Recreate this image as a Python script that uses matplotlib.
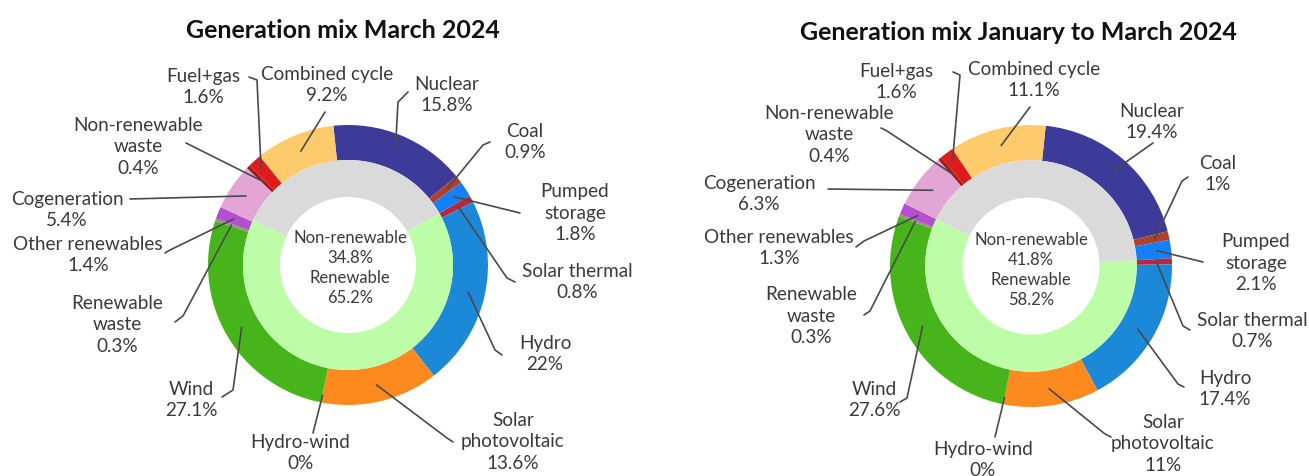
import numpy as np
import matplotlib.pyplot as plt

plt.rcParams['font.family'] = ['Lato', 'DejaVu Sans']

# generation sources, clockwise from the top of the ring
sources = ['Nuclear', 'Coal', 'Pumped\nstorage', 'Solar thermal', 'Hydro',
           'Solar\nphotovoltaic', 'Hydro-wind', 'Wind', 'Renewable\nwaste',
           'Other renewables', 'Cogeneration', 'Non-renewable\nwaste',
           'Fuel+gas', 'Combined cycle']
march = [15.8, 0.9, 1.8, 0.8, 22, 13.6, 0, 27.1, 0.3, 1.4, 5.4, 0.4, 1.6, 9.2]
jan_mar = [19.4, 1, 2.1, 0.7, 17.4, 11, 0, 27.6, 0.3, 1.3, 6.3, 0.4, 1.6, 11.1]

groups = ['Renewable', 'Non-renewable']
march_groups = [65.2, 34.8]
jan_mar_groups = [58.2, 41.8]
n_before_renew = 3  # nuclear, coal, pumped storage sit before the renewable block

colors = ['#3c3b9a', '#b0402a', '#1580f5', '#b8283c', '#1c89d8', '#fd8a1e',
          '#2a9d8f', '#47b41b', '#8c9a6c', '#b54fd1', '#e2a5d6', '#9a1b1b',
          '#e01b1b', '#fecb6c']
group_colors = ['#bdfda8', '#dadada']

txt_col = '#3a3a3a'
line_col = '#4a4a4a'

# layout in pixels (x right, y down)
charts = [
    dict(title='Generation mix March 2024', title_xy=(343, 31),
         values=march, groups=march_groups, center=(348, 265), R=140,
         start=96, mid_xy=(350, 268),
         label_xy=[(447, 95), (525, 142), (575, 213), (577, 282), (545, 354),
                   (513, 442), (300, 453), (191, 400), (117, 325), (88, 255),
                   (67, 210), (138, 147), (203, 87), (327, 85)],
         leaders=[[(398, 102), (408, 92)], [(483, 145), (490, 142)],
                  [(520, 213)], [(507, 278), (515, 282)],
                  [(495, 350), (502, 355)], [(447, 438), (453, 442)],
                  [(313, 433)], [(233, 390), (222, 397)],
                  [(183, 316), (175, 322)], [(170, 250), (165, 253)],
                  [(130, 199)], [(192, 146), (186, 143)],
                  [(257, 80), (249, 77)], [(325, 112)]]),
    dict(title='Generation mix January to March 2024', title_xy=(1018, 32),
         values=jan_mar, groups=jan_mar_groups, center=(1031, 266), R=141,
         start=84, mid_xy=(1031, 270),
         label_xy=[(1152, 122), (1218, 174), (1256, 263), (1252, 331),
                   (1225, 389), (1163, 444), (983, 460), (874, 400),
                   (811, 316), (779, 248), (759, 194), (829, 135),
                   (896, 82), (1034, 80)],
         leaders=[[(1153, 143)], [(1182, 181), (1188, 177)], [(1203, 262)],
                  [(1183, 326), (1190, 330)], [(1178, 384), (1184, 387)],
                  [(1105, 434), (1111, 437)], [(995, 437)],
                  [(907, 398), (900, 402)], [(870, 311), (864, 315)],
                  [(864, 241), (856, 247)], [(828, 189)],
                  [(887, 131), (881, 128)], [(960, 75), (953, 72)],
                  [(1030, 107)]]),
]
anchor_r = [0.89, 0.9, 0.9, 0.89, 0.88, 0.88, 0.95, 0.88, 0.88, 0.88,
            0.88, 0.85, 0.93, 0.88]

fig = plt.figure(figsize=(13.09, 4.76), dpi=100)
ax = fig.add_axes([0, 0, 1, 1])

for ch in charts:
    vals = np.array(ch['values'], dtype=float)
    cx, cy = ch['center']
    R = ch['R']
    ax.pie(vals, radius=R, center=(cx, -cy), startangle=ch['start'],
           counterclock=False, colors=colors,
           wedgeprops=dict(width=0.25 * R, linewidth=0))
    inner_start = ch['start'] - vals[:n_before_renew].sum() / vals.sum() * 360
    ax.pie(ch['groups'], radius=0.75 * R, center=(cx, -cy),
           startangle=inner_start, counterclock=False, colors=group_colors,
           wedgeprops=dict(width=0.264 * R, linewidth=0))

    mids = np.cumsum(vals) - vals / 2
    theta = np.deg2rad(ch['start'] - mids / vals.sum() * 360)
    for i, name in enumerate(sources):
        r = anchor_r[i] * R
        xs = [cx + r * np.cos(theta[i])] + [p[0] for p in ch['leaders'][i]]
        ys = [-cy + r * np.sin(theta[i])] + [-p[1] for p in ch['leaders'][i]]
        ax.plot(xs, ys, color=line_col, lw=1.2, solid_capstyle='round')
        lx, ly = ch['label_xy'][i]
        ax.text(lx, -ly, f"{name}\n{vals[i]:g}%", ha='center', va='center',
                fontsize=13.6, color=txt_col, linespacing=1.3)

    g = ch['groups']
    mx, my = ch['mid_xy']
    ax.text(mx, -my, f"{groups[1]}\n{g[1]:g}%\n{groups[0]}\n{g[0]:g}%",
            ha='center', va='center', fontsize=12, color=txt_col,
            linespacing=1.3)
    tx, ty = ch['title_xy']
    ax.text(tx, -ty, ch['title'], ha='center', va='center', fontsize=18,
            fontweight='bold', color='#111111')

ax.set_xlim(0, 1309)
ax.set_ylim(-476, 0)
ax.set_aspect('equal')
ax.axis('off')

fig.savefig('out.png', dpi=100, facecolor='white')
